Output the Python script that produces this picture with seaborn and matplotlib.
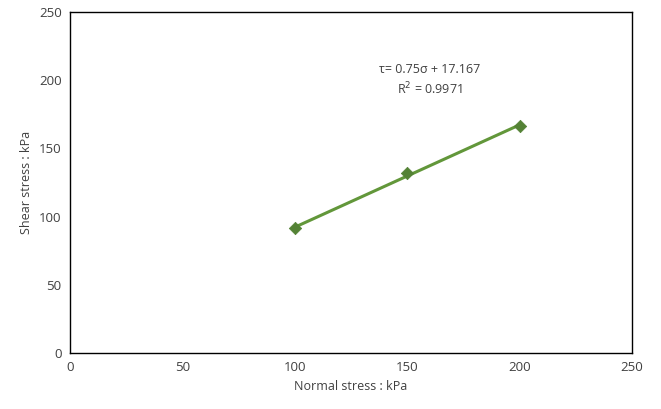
import matplotlib
matplotlib.use("Agg")
import matplotlib.pyplot as plt
import seaborn as sns
import numpy as np
import pandas as pd

normal_stress = [100, 150, 200]
shear_stress = [91.5, 132, 166.5]
slope = 0.75
intercept = 17.167

sns.set_style("white")
plt.rcParams['font.family'] = ['Open Sans', 'DejaVu Sans']

fig = plt.figure(figsize=(6.61, 4.09), dpi=100)
ax = fig.add_axes([0.106, 0.137, 0.850, 0.834])
df = pd.DataFrame({"x": normal_stress, "y": shear_stress})
green = "#548235"
xs = np.array([min(normal_stress), max(normal_stress)])
ax.plot(xs, slope * xs + intercept, color="#62973A", lw=2.2, zorder=2)
sns.scatterplot(data=df, x="x", y="y", marker="D", s=40, color=green, edgecolor=green, ax=ax, zorder=3)
ax.set_xlim(0, 250)
ax.set_ylim(0, 250)
ax.set_xticks(range(0, 251, 50))
ax.set_yticks(range(0, 251, 50))
ax.tick_params(labelsize=9.5, colors="#404040", length=0, pad=6)
for s in ax.spines.values():
    s.set_color("black")
    s.set_linewidth(1)
ax.set_xlabel("Normal stress : kPa", fontsize=9, color="#404040")
ax.set_ylabel("Shear stress : kPa", fontsize=9, color="#404040")
ax.text(160, 200, "τ= 0.75σ + 17.167\nR$^2$ = 0.9971", ha="center", va="center", fontsize=9, color="#404040", linespacing=1.3)
fig.savefig("out.png", dpi=100)
